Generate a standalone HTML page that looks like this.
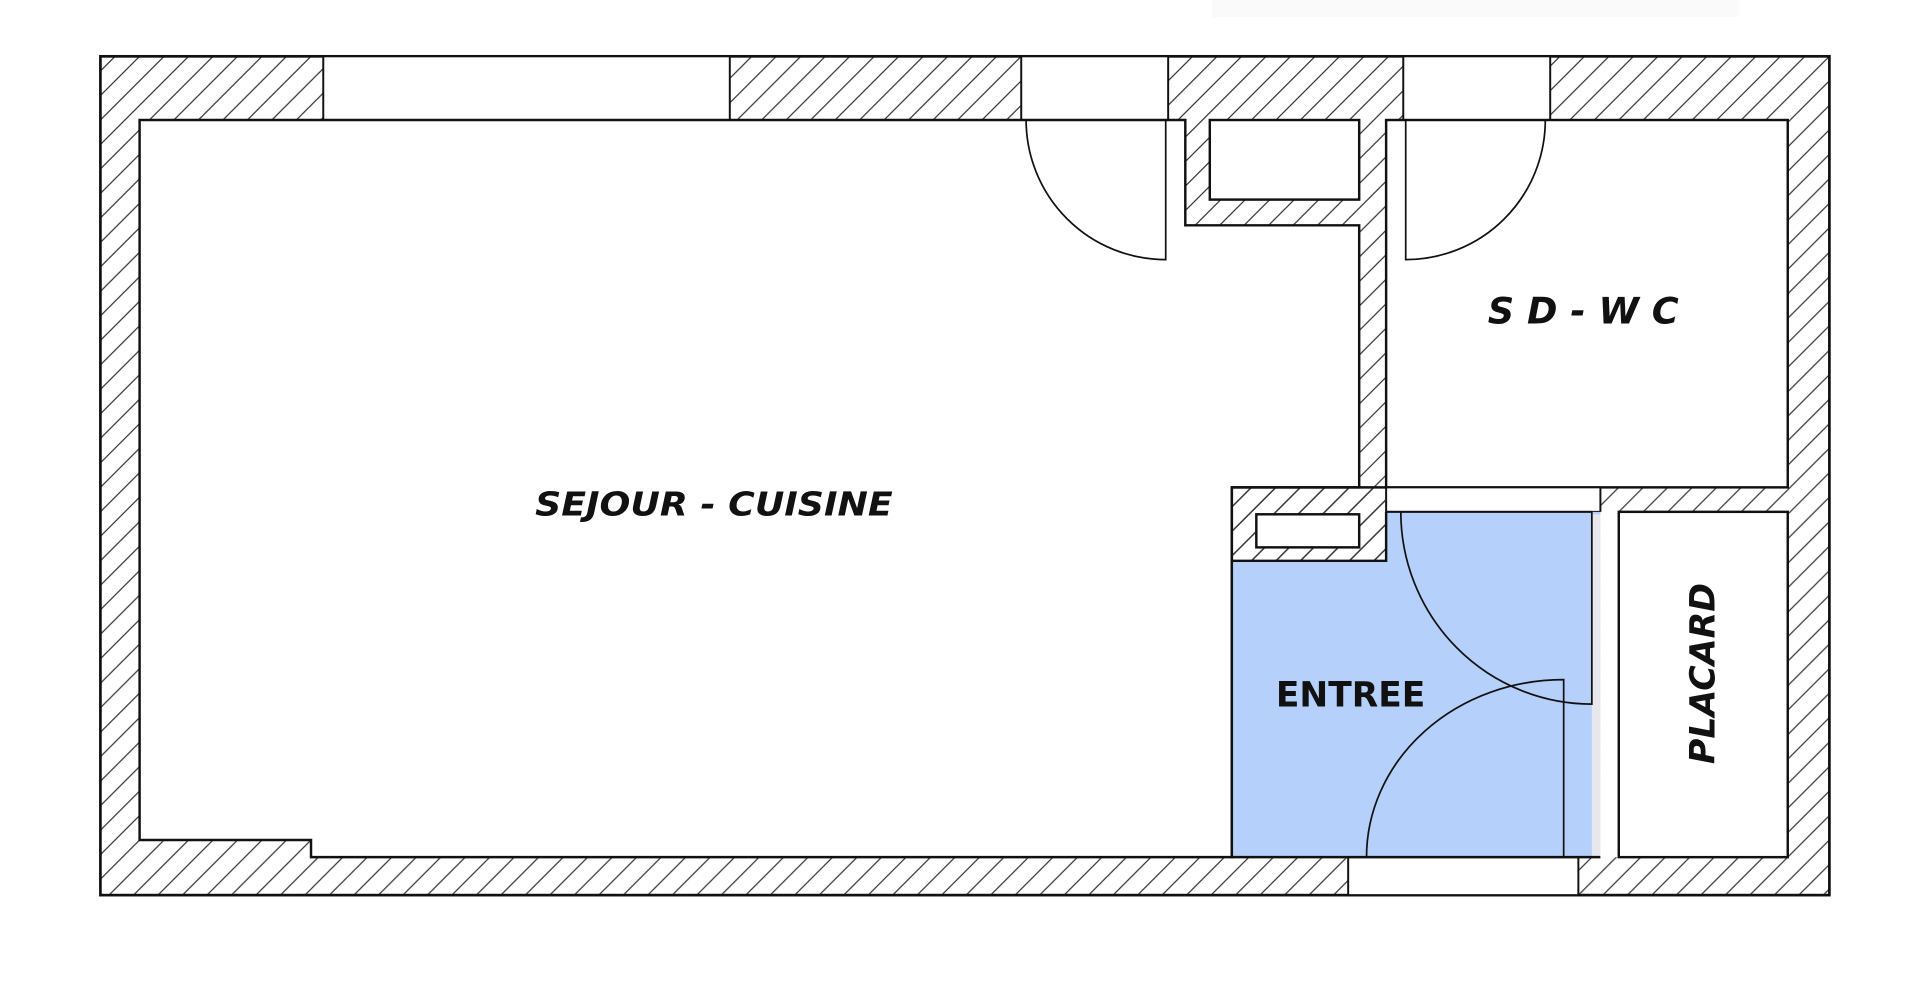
<!DOCTYPE html>
<html><head><meta charset="utf-8"><style>
html,body{margin:0;padding:0;background:#fff;}
svg{display:block;}
</style></head><body>
<svg width="1920" height="985" viewBox="0 0 1568 804.4" preserveAspectRatio="none" xmlns="http://www.w3.org/2000/svg">
<defs>
<pattern id="h" patternUnits="userSpaceOnUse" width="20" height="20">
<path d="M-2,22 L22,-2 M-4,4 L4,-4 M16,24 L24,16" stroke="#333" stroke-width="1"/>
</pattern>
</defs>
<rect x="990" y="0" width="430" height="14" fill="#fafafa"/>
<rect x="82" y="46" width="1412" height="685" fill="url(#h)" stroke="#111" stroke-width="2.2"/>
<g fill="#fff" stroke="#111" stroke-width="1.6">
<rect x="264" y="46" width="332" height="52"/>
<rect x="834" y="46" width="120" height="52"/>
<rect x="1146" y="46" width="120" height="52"/>
<rect x="1101" y="700" width="188" height="31"/>
</g>
<path d="M114,98 L968,98 L968,184 L1110,184 L1110,398 L1006,398 L1006,700 L254,700 L254,686 L114,686 Z" fill="#fff" stroke="#111" stroke-width="2"/>
<rect x="988" y="98" width="122" height="65" fill="#fff" stroke="#111" stroke-width="2"/>
<rect x="1132" y="98" width="328" height="300" fill="#fff" stroke="#111" stroke-width="2"/>
<rect x="1132" y="398" width="175" height="20" fill="#fff" stroke="#111" stroke-width="1.6"/>
<path d="M1132,418 L1307,418 L1307,700 L1006,700 L1006,458 L1132,458 Z" fill="#b5d0fb"/>
<rect x="1300" y="420" width="7" height="280" fill="#e8e8ec"/>
<path d="M1132,418 L1132,458 L1006,458 L1006,398 L1132,398" fill="url(#h)" stroke="#111" stroke-width="2"/>
<rect x="1026" y="420" width="84" height="27" fill="#fff" stroke="#111" stroke-width="2"/>
<path d="M1006,458 L1006,700 L1307,700" fill="none" stroke="#111" stroke-width="2"/>
<path d="M1132,418 L1300,418" fill="none" stroke="#111" stroke-width="1.6"/>
<rect x="1307" y="418" width="15" height="282" fill="#fff"/>
<rect x="1322" y="418" width="138" height="282" fill="#fff" stroke="#111" stroke-width="2"/>
<g fill="none" stroke="#111" stroke-width="1.4">
<path d="M952,98 L952,212 A114,114 0 0 1 838,98"/>
<path d="M1148,98 L1148,212 A114,114 0 0 0 1262,98"/>
<path d="M1144,418 A156,157 0 0 0 1300,575 L1300,418"/>
<path d="M1277,700 L1277,555 A161,145 0 0 0 1116,700"/>
</g>
<g font-family="'DejaVu Sans','Liberation Sans',sans-serif" font-weight="bold" fill="#111">
<text x="583" y="421" font-size="27" font-style="italic" text-anchor="middle" textLength="292" lengthAdjust="spacingAndGlyphs">SEJOUR - CUISINE</text>
<text x="1293" y="264" font-size="30" font-style="italic" text-anchor="middle" textLength="156" lengthAdjust="spacing">S D - W C</text>
<text x="1103" y="577" font-size="28" text-anchor="middle" textLength="122" lengthAdjust="spacingAndGlyphs">ENTREE</text>
<text transform="translate(1400,550) rotate(-90)" font-size="28" font-style="italic" text-anchor="middle" textLength="148" lengthAdjust="spacingAndGlyphs">PLACARD</text>
</g>
</svg>
</body></html>
